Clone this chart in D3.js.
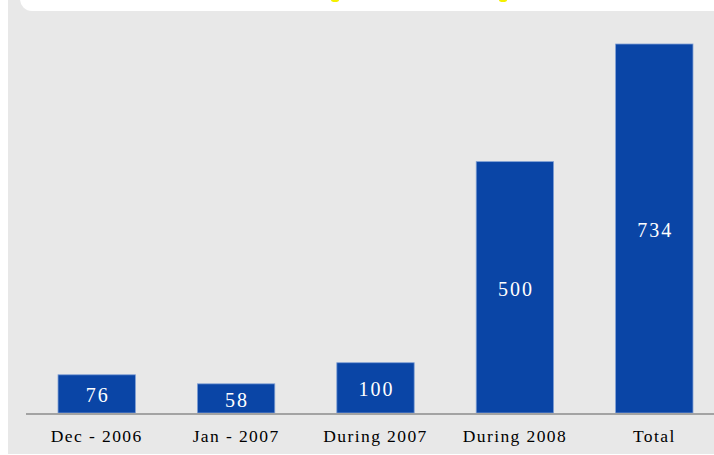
<!DOCTYPE html>
<html>
<head>
<meta charset="utf-8">
<script src="https://cdn.jsdelivr.net/npm/d3@7"></script>
<style>
  body { margin: 0; background: #fff; }
  .cat { font-family: "Liberation Serif", "Times New Roman", serif; font-size: 17.5px; letter-spacing: 1.4px; fill: #000; }
  .val { font-family: "Liberation Serif", "Times New Roman", serif; font-size: 20px; letter-spacing: 2px; fill: #fff; }
</style>
</head>
<body>
<div class="container"></div>
<script>
let categories = ["Dec - 2006", "Jan - 2007", "During 2007", "During 2008", "Total"];
let values = [76, 58, 100, 500, 734];

let width = 714, height = 455;
let baseY = 413;

let svg = d3.select(".container").append("svg")
    .attr("width", width)
    .attr("height", height);

// grey panel
svg.append("rect")
  .attr("x", 8).attr("y", 0)
  .attr("width", width - 8).attr("height", 454)
  .style("fill", "#e8e8e8");

// white header strip with rounded corner (cut off title area)
svg.append("rect")
  .attr("x", 20).attr("y", -30)
  .attr("width", width).attr("height", 41)
  .attr("rx", 12)
  .style("fill", "#fff");
svg.append("ellipse").attr("cx", 335).attr("cy", 0).attr("rx", 4).attr("ry", 2).style("fill", "#f4f000");
svg.append("ellipse").attr("cx", 503).attr("cy", 0).attr("rx", 4).attr("ry", 2).style("fill", "#f4f000");

let x = d3.scaleBand()
  .domain(categories)
  .range([27, 724])
  .paddingInner(0.445)
  .paddingOuter(0.2225);

let y = d3.scaleLinear()
  .domain([0, 734])
  .range([baseY, 44]);

svg.append("g").selectAll("rect")
  .data(values)
  .enter().append("rect")
    .attr("x", (d, i) => x(categories[i]))
    .attr("y", d => y(d))
    .attr("width", x.bandwidth())
    .attr("height", d => baseY - y(d))
    .style("fill", "#0a45a6")
    .style("stroke", "#7f9fd4")
    .style("stroke-width", 0.8);

svg.append("g").selectAll("text")
  .data(values)
  .enter().append("text")
    .attr("class", "val")
    .attr("text-anchor", "middle")
    .attr("dominant-baseline", "central")
    .attr("x", (d, i) => x(categories[i]) + x.bandwidth() / 2 + 1)
    .attr("y", d => (y(d) + baseY) / 2 + 1.5)
    .text(d => d);

// axis
let axis = svg.append("g")
  .attr("transform", "translate(0," + (baseY + 1) + ")")
  .call(d3.axisBottom(x).tickSize(0).tickPadding(16));
axis.select(".domain")
  .attr("d", "M26,0H714")
  .style("stroke", "#a3a3a3")
  .style("stroke-width", 2);
axis.selectAll("text")
  .attr("class", "cat")
  .attr("font-family", null)
  .attr("font-size", null)
  .attr("fill", null);
</script>
</body>
</html>
